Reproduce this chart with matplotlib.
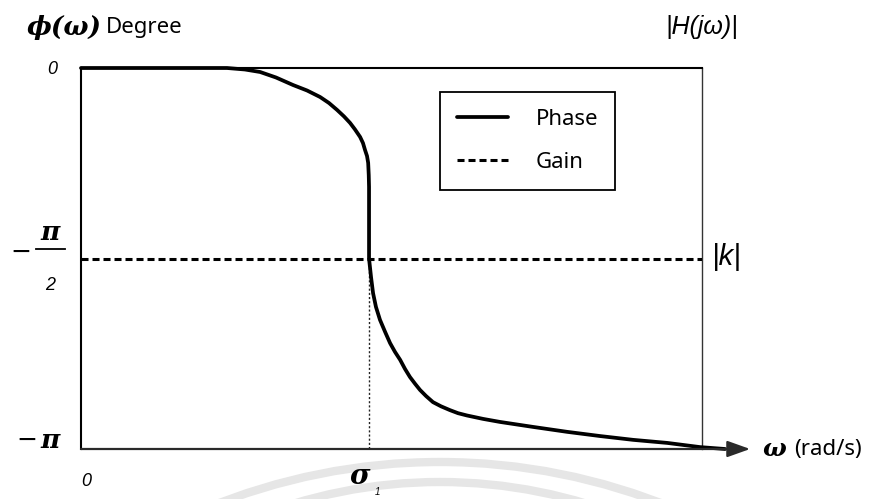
import numpy as np
import matplotlib
matplotlib.use("Agg")
import matplotlib.pyplot as plt
from matplotlib.patches import Circle

# --- datos (ω en unidades de σ1, fase en unidades de π) ---
omega = [0.0, 0.240, 0.507, 0.569, 0.622, 0.677, 0.736, 0.785, 0.830, 0.861,
         0.889, 0.913, 0.934, 0.951, 0.969, 0.979, 0.986, 0.993, 0.997, 0.999,
         1.000, 1.000, 1.000, 1.000, 1.007, 1.014, 1.024, 1.038, 1.056, 1.073,
         1.090, 1.108, 1.125, 1.142, 1.160, 1.177, 1.198, 1.222, 1.250, 1.281,
         1.309, 1.340, 1.396, 1.455, 1.569, 1.688, 1.802, 1.917, 2.035, 2.149,
         2.236]
phase_pi = [0.0, 0.0, 0.0, -0.0039, -0.0105, -0.0249, -0.0446, -0.0591, -0.0761, -0.0919,
            -0.110, -0.127, -0.144, -0.161, -0.181, -0.197, -0.215, -0.231, -0.249, -0.281,
            -0.312, -0.373, -0.444, -0.500, -0.549, -0.591, -0.627, -0.661, -0.693, -0.722,
            -0.745, -0.766, -0.790, -0.811, -0.829, -0.845, -0.861, -0.877, -0.888, -0.898,
            -0.906, -0.912, -0.921, -0.929, -0.942, -0.955, -0.966, -0.976, -0.984, -0.995,
            -1.0]
gain_pi = -0.5          # nivel |k|
sigma_1 = 1.0
x_frame = 2.156         # borde derecho del marco
x_arrow = 2.323         # punta de la flecha del eje ω

W, H = 878, 499
fig = plt.figure(figsize=(W / 100, H / 100), dpi=100)
fig.patch.set_facecolor("white")


def fx(px):
    return px / W


def fy(py):
    return 1 - py / H


# --- marca de agua (arcos grises) ---
bg = fig.add_axes([0, 0, 1, 1], zorder=-1)
bg.set_xlim(0, W)
bg.set_ylim(H, 0)
bg.axis("off")
bg.add_patch(Circle((440, 462 + 614), 614, fill=False, ec="#e6e6e6", lw=6))
bg.add_patch(Circle((440, 482 + 505), 505, fill=False, ec="#e6e6e6", lw=6))

# --- ejes ---
ax = fig.add_axes([fx(81), fy(449), fx(702) - fx(81), (449 - 68) / H])
ax.set_xlim(0, x_frame)
ax.set_ylim(-np.pi, 0)
ax.patch.set_alpha(0)
ax.set_xticks([])
ax.set_yticks([])
ax.spines["bottom"].set_visible(False)
for s in ("top", "left"):
    ax.spines[s].set_linewidth(1.5)
    ax.spines[s].set_color("black")
ax.spines["right"].set_linewidth(1.0)
ax.spines["right"].set_color("#333333")

ph = np.array(phase_pi) * np.pi
ax.plot(omega, ph, color="black", lw=2.7, clip_on=False, zorder=4,
        solid_capstyle="round", solid_joinstyle="round", label="Phase")
ax.axhline(gain_pi * np.pi, color="black", lw=2.2, ls=(0, (2.3, 1.3)),
           label="Gain", zorder=3)
ax.plot([sigma_1, sigma_1], [gain_pi * np.pi, -np.pi], color="#222222",
        lw=1.0, ls=(0, (1.5, 1.5)), zorder=2)

ax.annotate("", xy=(x_arrow, -np.pi), xytext=(0, -np.pi),
            arrowprops=dict(arrowstyle="-|>,head_length=0.7,head_width=0.25",
                            color="#2a2a2a", lw=1.6, mutation_scale=20,
                            shrinkA=0, shrinkB=0),
            annotation_clip=False, zorder=5)

leg = ax.legend(loc="upper left", bbox_to_anchor=(fx(440), fy(92)),
                bbox_transform=fig.transFigure, borderaxespad=0,
                fancybox=False, framealpha=1, edgecolor="black",
                prop={"family": "Noto Sans", "size": 16},
                handlelength=2.3, handletextpad=1.26, borderpad=0.75,
                labelspacing=1.0)
leg.get_frame().set_linewidth(1.3)

# --- textos ---
greek = dict(family="DejaVu Serif", weight="bold", style="italic")
sans_it = dict(family="Liberation Sans", style="italic")

fig.text(fx(27), fy(27), "ϕ(ω)", fontsize=19, ha="left", va="center", **greek)
fig.text(fx(106), fy(28), "Degree", fontsize=16, ha="left", va="center",
         family="Noto Sans")
fig.text(fx(665), fy(27), "|H(jω)|", fontsize=18, ha="left", va="center", **sans_it)

fig.text(fx(52), fy(69), "0", fontsize=13, ha="center", va="center", **sans_it)
fig.text(fx(21), fy(252), "−", fontsize=18, ha="center", va="center",
         family="DejaVu Sans")
fig.lines.append(plt.Line2D([fx(36), fx(65)], [fy(249), fy(249)],
                            transform=fig.transFigure, color="black", lw=1.3))
fig.text(fx(50), fy(232), "π", fontsize=19, ha="center", va="center", **greek)
fig.text(fx(50), fy(285), "2", fontsize=13, ha="center", va="center", **sans_it)
fig.text(fx(27), fy(440), "−", fontsize=18, ha="center", va="center",
         family="DejaVu Sans")
fig.text(fx(50), fy(440), "π", fontsize=19, ha="center", va="center", **greek)

fig.text(fx(86), fy(482), "0", fontsize=13, ha="center", va="center", **sans_it)
fig.text(fx(360), fy(477), "σ", fontsize=20, ha="center", va="center", **greek)
fig.text(fx(377), fy(492), "1", fontsize=7, ha="center", va="center", **sans_it)

fig.text(fx(712), fy(257), "|k|", fontsize=21, ha="left", va="center", **sans_it)
fig.text(fx(774), fy(449), "ω", fontsize=18, ha="center", va="center", **greek)
fig.text(fx(794), fy(449), "(rad/s)", fontsize=16, ha="left", va="center",
         family="Noto Sans")

fig.savefig("out.png", dpi=100)
